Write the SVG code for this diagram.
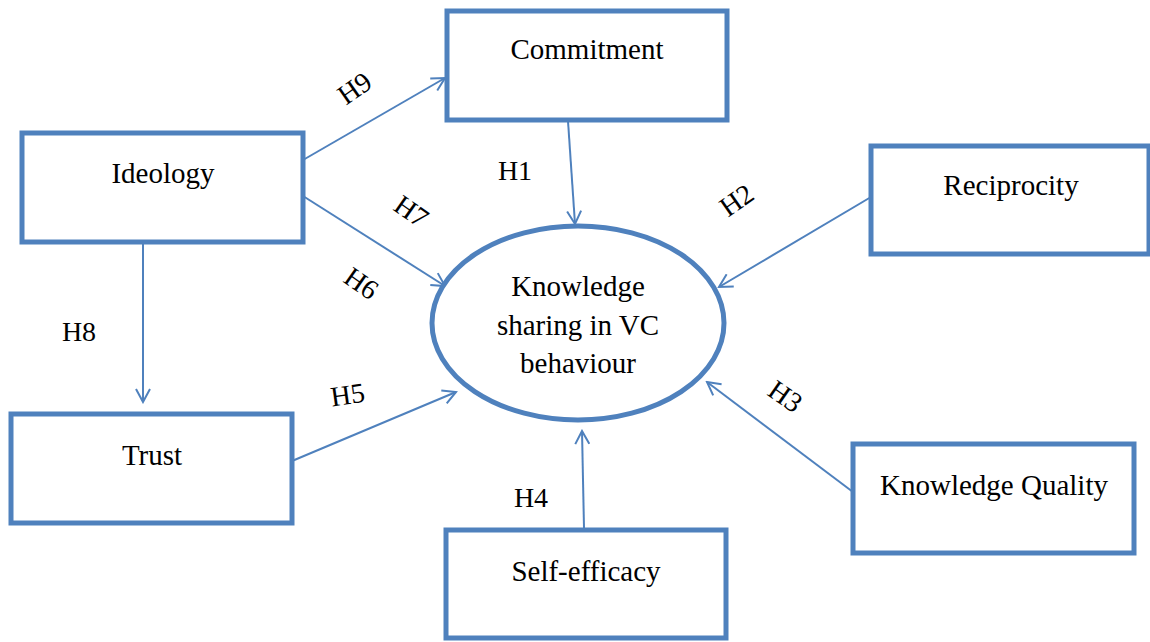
<svg xmlns="http://www.w3.org/2000/svg" width="1150" height="642" viewBox="0 0 1150 642">
  <style>
    .box { fill: #ffffff; stroke: #4F81BD; stroke-width: 5; }
    .link { stroke: #4F81BD; stroke-width: 2; fill: none; marker-end: url(#arrow); }
    .lbl { font-family: "Liberation Serif", "Times New Roman", serif; font-size: 29px; fill: #000; text-anchor: middle; }
    .h { font-family: "Liberation Serif", "Times New Roman", serif; font-size: 28px; fill: #000; text-anchor: middle; }
  </style>
  <defs>
    <marker id="arrow" markerWidth="16" markerHeight="16" refX="14" refY="8" orient="auto" markerUnits="userSpaceOnUse">
      <path d="M1,1 L14,8 L1,15" fill="none" stroke="#4F81BD" stroke-width="2"/>
    </marker>
  </defs>
  <rect width="1150" height="642" fill="#ffffff"/>

  <g id="connectors">
    <line class="link" x1="303" y1="160" x2="445" y2="78"/>
    <line class="link" x1="303" y1="196" x2="445" y2="286"/>
    <line class="link" x1="568" y1="121" x2="575" y2="224"/>
    <line class="link" x1="871" y1="197" x2="719" y2="287"/>
    <line class="link" x1="853" y1="492" x2="707" y2="382"/>
    <line class="link" x1="584" y1="528" x2="582" y2="431"/>
    <line class="link" x1="292" y1="461" x2="456" y2="392"/>
    <line class="link" x1="143" y1="243" x2="143" y2="402"/>
  </g>

  <g id="hypothesis-labels">
    <text class="h" transform="translate(360,96) rotate(-35)">H9</text>
    <text class="h" x="515" y="180">H1</text>
    <text class="h" transform="translate(742,208) rotate(-35)">H2</text>
    <text class="h" transform="translate(406,219) rotate(35)">H7</text>
    <text class="h" transform="translate(356,291) rotate(35)">H6</text>
    <text class="h" x="79" y="341">H8</text>
    <text class="h" transform="translate(349,404) rotate(-8)">H5</text>
    <text class="h" transform="translate(780,404) rotate(35)">H3</text>
    <text class="h" x="531" y="507">H4</text>
  </g>

  <g id="node-commitment">
    <rect class="box" x="447" y="11" width="280" height="109"/>
    <text class="lbl" x="587" y="59">Commitment</text>
  </g>
  <g id="node-ideology">
    <rect class="box" x="22" y="133" width="281" height="109"/>
    <text class="lbl" x="163" y="183">Ideology</text>
  </g>
  <g id="node-reciprocity">
    <rect class="box" x="871" y="146" width="278" height="108"/>
    <text class="lbl" x="1011" y="195">Reciprocity</text>
  </g>
  <g id="node-trust">
    <rect class="box" x="11" y="414" width="281" height="109"/>
    <text class="lbl" x="152" y="465">Trust</text>
  </g>
  <g id="node-knowledge-quality">
    <rect class="box" x="853" y="444" width="281" height="109"/>
    <text class="lbl" x="994" y="495">Knowledge Quality</text>
  </g>
  <g id="node-self-efficacy">
    <rect class="box" x="446" y="530" width="280" height="108"/>
    <text class="lbl" x="586" y="581">Self-efficacy</text>
  </g>
  <g id="node-knowledge-sharing">
    <ellipse class="box" cx="578" cy="323" rx="146" ry="97"/>
    <text class="lbl" x="578" y="296">Knowledge</text>
    <text class="lbl" x="578" y="335">sharing in VC</text>
    <text class="lbl" x="578" y="373">behaviour</text>
  </g>
</svg>
